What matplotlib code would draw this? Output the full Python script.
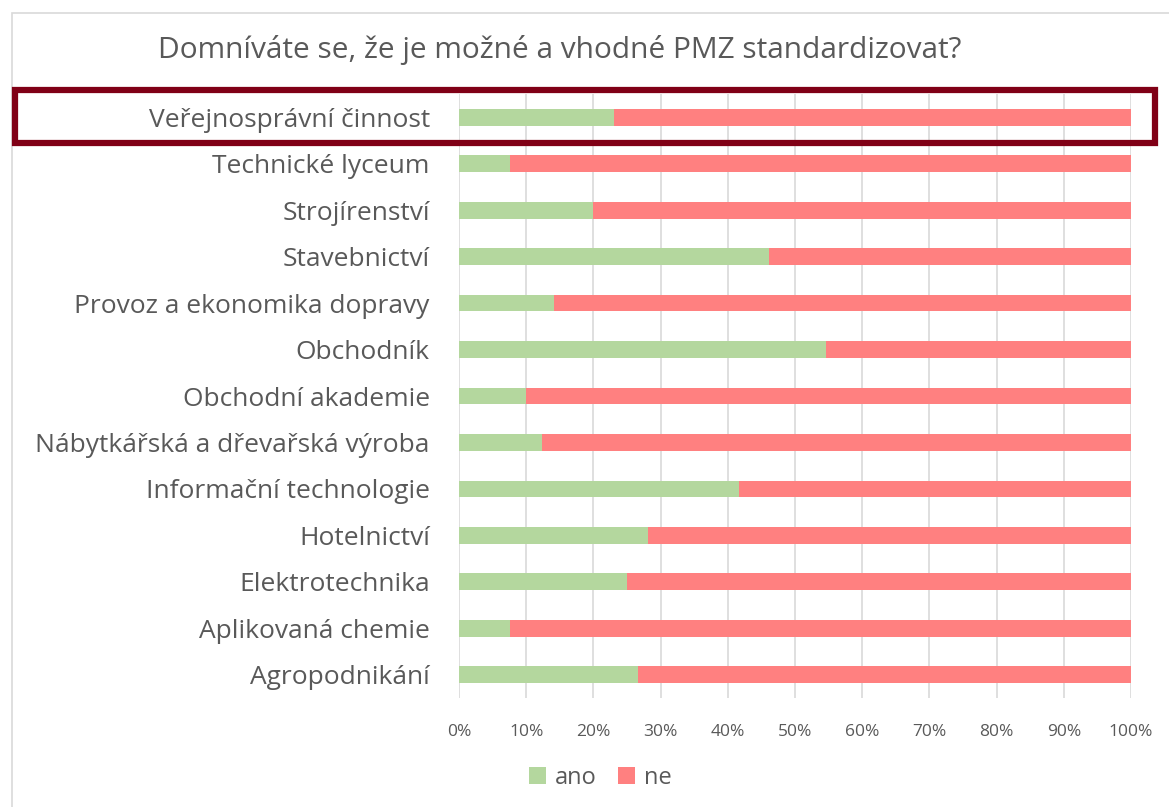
import matplotlib
matplotlib.use("Agg")
import matplotlib.pyplot as plt
from matplotlib.patches import Rectangle, Patch
from matplotlib.ticker import FuncFormatter

title = "Domníváte se, že je možné a vhodné PMZ standardizovat?"
categories = [
    "Veřejnosprávní činnost",
    "Technické lyceum",
    "Strojírenství",
    "Stavebnictví",
    "Provoz a ekonomika dopravy",
    "Obchodník",
    "Obchodní akademie",
    "Nábytkářská a dřevařská výroba",
    "Informační technologie",
    "Hotelnictví",
    "Elektrotechnika",
    "Aplikovaná chemie",
    "Agropodnikání",
]
ano = [23.0, 7.6, 20.0, 46.2, 14.2, 54.6, 9.9, 12.4, 41.7, 28.1, 25.0, 7.6, 26.6]
ne = [77.0, 92.4, 80.0, 53.8, 85.8, 45.4, 90.1, 87.6, 58.3, 71.9, 75.0, 92.4, 73.4]
series_names = ["ano", "ne"]
xticks = [0, 10, 20, 30, 40, 50, 60, 70, 80, 90, 100]

GREEN = "#B4D79E"
RED = "#FF8080"
TEXT = "#595959"
GRID = "#D9D9D9"
FONT = ["Open Sans", "DejaVu Sans"]

plt.rcParams["font.family"] = FONT

W, H = 1169, 807
fig = plt.figure(figsize=(W / 100, H / 100), dpi=100)
fig.patch.set_facecolor("white")

ax = fig.add_axes([459 / W, 1 - 698 / H, (1131 - 459) / W, (698 - 94) / H])
y = list(range(len(categories)))
ax.barh(y, ano, height=0.36, color=GREEN, label=series_names[0], zorder=3)
ax.barh(y, ne, left=ano, height=0.36, color=RED, label=series_names[1], zorder=3)
ax.set_ylim(len(categories) - 0.5, -0.5)
ax.set_xlim(0, 100)
ax.set_yticks(y)
ax.set_yticklabels(categories, fontsize=19, color=TEXT)
ax.set_xticks(xticks)
ax.xaxis.set_major_formatter(FuncFormatter(lambda v, p: f"{int(v)}%"))
ax.tick_params(axis="x", labelsize=12.5, labelcolor=TEXT, length=0, pad=19)
ax.tick_params(axis="y", length=0, pad=21)
ax.grid(axis="x", color=GRID, linewidth=1.2, zorder=0)
for s in ax.spines.values():
    s.set_visible(False)

fig.text(560 / W, 1 - 50 / H, title, ha="center", va="center",
         fontsize=21.5, color=TEXT)

handles = [Patch(facecolor=GREEN), Patch(facecolor=RED)]
fig.legend(handles, series_names, loc="center", bbox_to_anchor=(600 / W, 1 - 778 / H),
           ncol=2, frameon=False, fontsize=17, labelcolor=TEXT,
           handlelength=0.75, handleheight=0.75, handletextpad=0.35, columnspacing=0.9)

# outer chart frame
fig.patches.append(Rectangle((12 / W, 1 - 1000 / H), 1200 / W, (1000 - 13) / H,
                             transform=fig.transFigure, fill=False,
                             edgecolor="#D9D9D9", linewidth=1.2))
# highlight box around first row
fig.patches.append(Rectangle((15 / W, 1 - 143 / H), (1155 - 15) / W, (143 - 90) / H,
                             transform=fig.transFigure, fill=False,
                             edgecolor="#800016", linewidth=4.5, zorder=10))

fig.savefig("out.png", dpi=100)
